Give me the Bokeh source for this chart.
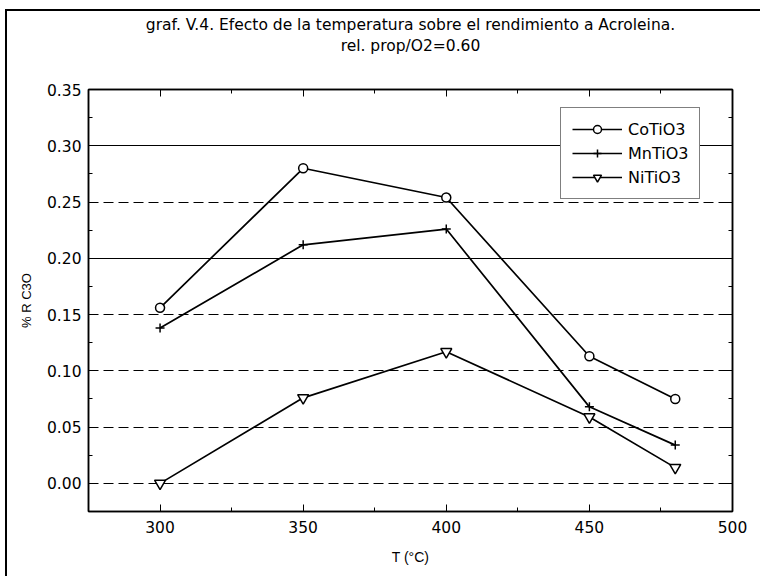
from bokeh.plotting import figure
from bokeh.models import LinearAxis, Range1d, FixedTicker, Legend, LegendItem, Grid, NumeralTickFormatter, Title
from bokeh.embed import file_html
from bokeh.resources import INLINE

# ---- data ----
temps = [300, 350, 400, 450, 480]
co_tio3 = [0.156, 0.280, 0.254, 0.113, 0.075]
mn_tio3 = [0.138, 0.212, 0.226, 0.068, 0.034]
ni_tio3 = [0.000, 0.076, 0.117, 0.059, 0.014]
series_names = ["CoTiO3", "MnTiO3", "NiTiO3"]

x_ticks = [300, 350, 400, 450, 500]
x_minor = [275, 325, 375, 425, 475]
y_ticks = [0.00, 0.05, 0.10, 0.15, 0.20, 0.25, 0.30, 0.35]
y_minor = [0.025, 0.075, 0.125, 0.175, 0.225, 0.275, 0.325]
grid_dashed = [0.00, 0.05, 0.10, 0.15, 0.25]
grid_solid = [0.20, 0.30]

title_line1 = "graf. V.4. Efecto de la temperatura sobre el rendimiento a Acroleina."
title_line2 = "rel. prop/O2=0.60"
x_label = "T (°C)"
y_label = "% R C3O"

FONT = "DejaVu Sans"
LFONT = "Liberation Sans"

p = figure(width=755, height=567, output_backend="svg", toolbar_location=None, title=None,
           x_range=Range1d(275, 500), y_range=Range1d(-0.025, 0.35),
           min_border_left=81, min_border_right=30, min_border_top=78, min_border_bottom=67,
           x_axis_type=None, y_axis_type=None)
p.styles = {"margin-left": "5px", "margin-top": "9px",
            "border-left": "2px solid black", "border-top": "2px solid black"}

p.outline_line_color = "black"
p.outline_line_width = 1.5
p.background_fill_color = "white"
p.border_fill_color = "white"

def make_axis(ticker, show_labels, fmt=None):
    ax = LinearAxis(ticker=ticker)
    ax.axis_line_color = "black"
    ax.axis_line_width = 1.5
    ax.major_tick_in = 7
    ax.major_tick_out = 0
    ax.minor_tick_in = 4
    ax.minor_tick_out = 0
    ax.major_tick_line_color = "black"
    ax.minor_tick_line_color = "black"
    ax.major_label_text_font = FONT
    if show_labels:
        ax.major_label_text_color = "black"
        ax.major_label_text_font_size = "15.5px"
    else:
        ax.major_label_text_color = None
        ax.major_label_text_font_size = "1px"
    if fmt is not None:
        ax.formatter = fmt
    return ax

xt = FixedTicker(ticks=x_ticks, minor_ticks=x_minor)
yt = FixedTicker(ticks=y_ticks, minor_ticks=y_minor)

xb = make_axis(xt, True)
xb.major_label_standoff = 9
xb.axis_label = x_label
xb.axis_label_text_font = LFONT
xb.axis_label_text_font_size = "14px"
xb.axis_label_text_font_style = "normal"
xb.axis_label_text_color = "black"
xb.axis_label_standoff = 13
p.add_layout(xb, "below")

yl = make_axis(yt, True, NumeralTickFormatter(format="0.00"))
yl.major_label_standoff = 7
yl.axis_label = y_label
yl.axis_label_text_font = LFONT
yl.axis_label_text_font_size = "13px"
yl.axis_label_text_font_style = "normal"
yl.axis_label_text_color = "black"
yl.axis_label_standoff = 10
p.add_layout(yl, "left")

# top axis: ticks only, second title line as its label
top_axis = make_axis(xt, False)
top_axis.axis_label = title_line2
top_axis.axis_label_text_font = FONT
top_axis.axis_label_text_font_size = "15.5px"
top_axis.axis_label_text_font_style = "normal"
top_axis.axis_label_text_color = "black"
top_axis.axis_label_standoff = 35
p.add_layout(top_axis, "above")
p.add_layout(make_axis(yt, False), "right")

p.add_layout(Title(text=title_line1, align="center", text_font=FONT, text_font_size="15.5px",
                   text_font_style="normal", text_color="black", standoff=0, offset=5), "above")

p.add_layout(Grid(dimension=1, ticker=FixedTicker(ticks=grid_dashed),
                  grid_line_color="black", grid_line_width=1, grid_line_dash="10 5"))
p.add_layout(Grid(dimension=1, ticker=FixedTicker(ticks=grid_solid),
                  grid_line_color="black", grid_line_width=1))

items = []
for name, vals, marker, size in [(series_names[0], co_tio3, "circle", 9),
                                 (series_names[1], mn_tio3, "cross", 9),
                                 (series_names[2], ni_tio3, "inverted_triangle", 11)]:
    lr = p.line(temps, vals, line_color="black", line_width=1.7)
    sr = p.scatter(temps, vals, marker=marker, size=size, fill_color="white",
                   line_color="black", line_width=1.5)
    items.append(LegendItem(label=name, renderers=[lr, sr]))

legend = Legend(items=items, location=(472, 312))
legend.border_line_color = "black"
legend.border_line_width = 1.5
legend.background_fill_color = "white"
legend.background_fill_alpha = 1.0
legend.label_text_font = FONT
legend.label_text_font_size = "16px"
legend.label_text_color = "black"
legend.glyph_width = 50
legend.glyph_height = 20
legend.label_height = 20
legend.spacing = 4
legend.padding = 11
legend.margin = 0
legend.label_standoff = 6
p.add_layout(legend, "center")

open("out.html", "w").write(file_html(p, INLINE))
